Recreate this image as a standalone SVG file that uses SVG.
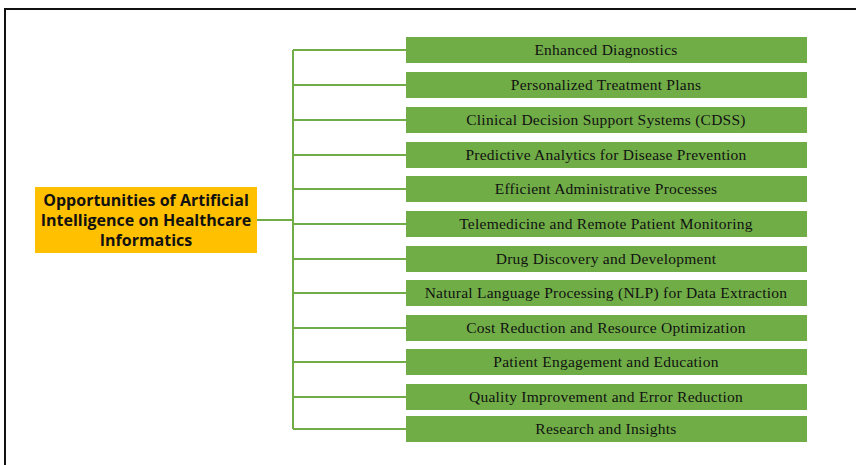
<svg xmlns="http://www.w3.org/2000/svg" width="856" height="465" viewBox="0 0 856 465">
  <style>
    .frame { stroke: #111; stroke-width: 2; fill: none; }
    .link { stroke: #70AD47; stroke-width: 2; fill: none; }
    .item rect { fill: #70AD47; }
    .item text { font-family: "Liberation Serif", "Times New Roman", serif; font-size: 15.5px; letter-spacing: 0.25px; fill: #111; text-anchor: middle; dominant-baseline: central; }
    .hub rect { fill: #FFC000; }
    .hub text { font-family: "Open Sans", "Liberation Sans", sans-serif; font-weight: bold; font-size: 16px; fill: #111; text-anchor: middle; dominant-baseline: central; }
  </style>
  <rect width="856" height="465" fill="#fff"/>
  <!-- page frame -->
  <path class="frame" d="M5,465 V9 H856"/>

  <!-- connectors -->
  <g id="connectors" class="link">
    <path d="M257,220 H293"/>
    <path d="M293,50 V429"/>
    <path d="M293,50 H406"/>
    <path d="M293,85 H406"/>
    <path d="M293,120 H406"/>
    <path d="M293,155 H406"/>
    <path d="M293,189 H406"/>
    <path d="M293,224 H406"/>
    <path d="M293,259 H406"/>
    <path d="M293,293 H406"/>
    <path d="M293,328 H406"/>
    <path d="M293,362 H406"/>
    <path d="M293,397 H406"/>
    <path d="M293,429 H406"/>
  </g>

  <g id="hub" class="hub">
    <rect x="35" y="187" width="222" height="66"/>
    <text x="146" y="200">Opportunities of Artificial</text>
    <text x="146" y="220">Intelligence on Healthcare</text>
    <text x="146" y="240">Informatics</text>
  </g>

  <g id="n1" class="item"><rect x="406" y="37" width="401" height="26"/><text x="606" y="49">Enhanced Diagnostics</text></g>
  <g id="n2" class="item"><rect x="406" y="72" width="401" height="26"/><text x="606" y="84">Personalized Treatment Plans</text></g>
  <g id="n3" class="item"><rect x="406" y="107" width="401" height="26"/><text x="606" y="119">Clinical Decision Support Systems (CDSS)</text></g>
  <g id="n4" class="item"><rect x="406" y="142" width="401" height="26"/><text x="606" y="154">Predictive Analytics for Disease Prevention</text></g>
  <g id="n5" class="item"><rect x="406" y="176" width="401" height="26"/><text x="606" y="188">Efficient Administrative Processes</text></g>
  <g id="n6" class="item"><rect x="406" y="211" width="401" height="26"/><text x="606" y="223">Telemedicine and Remote Patient Monitoring</text></g>
  <g id="n7" class="item"><rect x="406" y="246" width="401" height="26"/><text x="606" y="258">Drug Discovery and Development</text></g>
  <g id="n8" class="item"><rect x="406" y="280" width="401" height="26"/><text x="606" y="292">Natural Language Processing (NLP) for Data Extraction</text></g>
  <g id="n9" class="item"><rect x="406" y="315" width="401" height="26"/><text x="606" y="327">Cost Reduction and Resource Optimization</text></g>
  <g id="n10" class="item"><rect x="406" y="349" width="401" height="26"/><text x="606" y="361">Patient Engagement and Education</text></g>
  <g id="n11" class="item"><rect x="406" y="384" width="401" height="26"/><text x="606" y="396">Quality Improvement and Error Reduction</text></g>
  <g id="n12" class="item"><rect x="406" y="416" width="401" height="26"/><text x="606" y="428">Research and Insights</text></g>
</svg>
